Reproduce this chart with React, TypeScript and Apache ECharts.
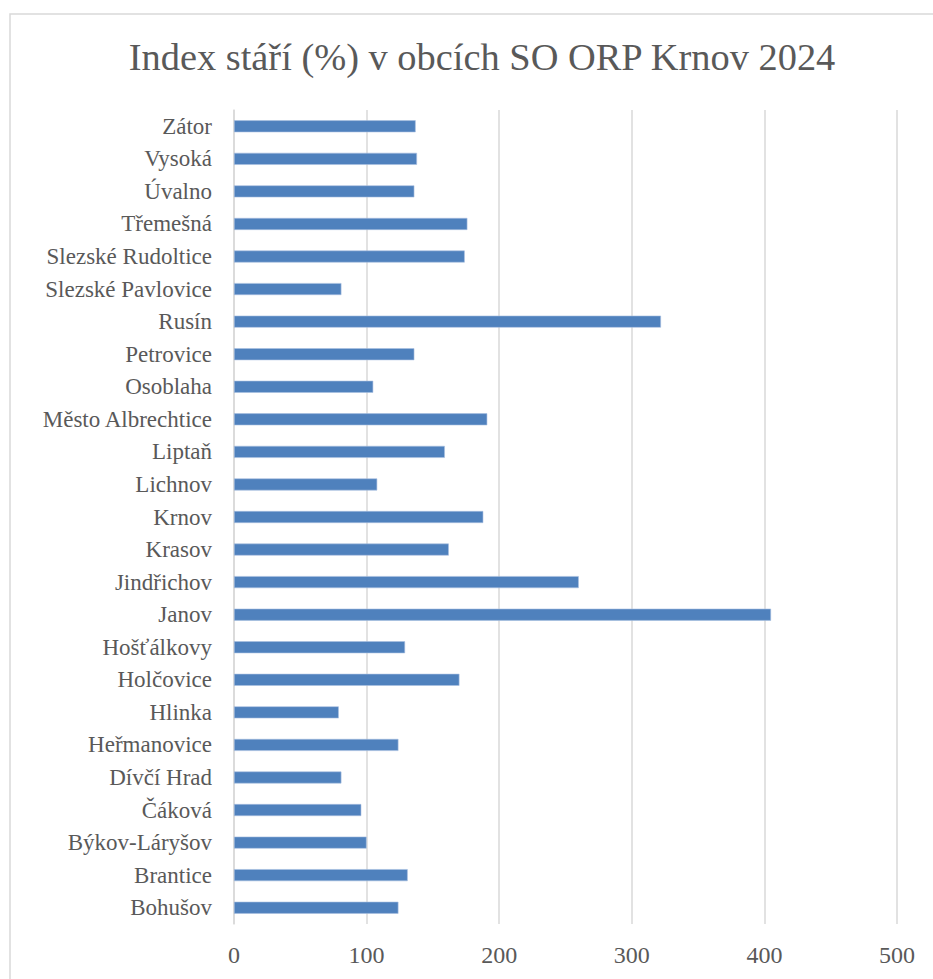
import React, { useEffect, useRef } from "react";
import * as echarts from "echarts";

const categories = [
  "Bohušov",
  "Brantice",
  "Býkov-Láryšov",
  "Čáková",
  "Dívčí Hrad",
  "Heřmanovice",
  "Hlinka",
  "Holčovice",
  "Hošťálkovy",
  "Janov",
  "Jindřichov",
  "Krasov",
  "Krnov",
  "Lichnov",
  "Liptaň",
  "Město Albrechtice",
  "Osoblaha",
  "Petrovice",
  "Rusín",
  "Slezské Pavlovice",
  "Slezské Rudoltice",
  "Třemešná",
  "Úvalno",
  "Vysoká",
  "Zátor",
];

const values = [
  124, 131, 100, 96, 81, 124, 79, 170, 129, 405, 260, 162, 188, 108, 159, 191,
  105, 136, 322, 81, 174, 176, 136, 138, 137,
];

const title = "Index stáří (%) v obcích SO ORP Krnov 2024";

const FONT = "'Liberation Serif', 'DejaVu Serif', serif";

export default function App() {
  const ref = useRef<HTMLDivElement>(null);
  useEffect(() => {
    if (!ref.current) return;
    const chart = echarts.init(ref.current, null, { renderer: "svg" });
    chart.setOption({
      animation: false,
      backgroundColor: "#ffffff",
      title: {
        text: title,
        left: 477,
        textAlign: "center",
        top: 33,
        textStyle: {
          fontFamily: FONT,
          fontWeight: "normal",
          fontSize: 38.4,
          color: "#595959",
        },
      },
      graphic: [
        {
          type: "rect",
          shape: { x: 10, y: 14, width: 940, height: 1000 },
          style: { fill: "none", stroke: "#d9d9d9", lineWidth: 1.5 },
          silent: true,
        },
      ],
      grid: { left: 234, right: 36, top: 110, bottom: 55, containLabel: false },
      xAxis: {
        type: "value",
        min: 0,
        max: 500,
        interval: 100,
        axisLine: { show: false },
        axisTick: { show: false },
        splitLine: { show: true, lineStyle: { color: "#d9d9d9", width: 1.5 } },
        axisLabel: {
          margin: 19,
          fontFamily: FONT,
          fontSize: 24,
          color: "#595959",
        },
      },
      yAxis: {
        type: "category",
        data: categories,
        axisLine: { show: true, lineStyle: { color: "#d9d9d9", width: 1.5 } },
        axisTick: { show: false },
        axisLabel: {
          margin: 22,
          fontFamily: FONT,
          fontSize: 23,
          color: "#595959",
        },
      },
      series: [
        {
          type: "bar",
          data: values,
          barWidth: 12,
          itemStyle: {
            color: "#4F81BD",
            borderColor: "#a9c0e0",
            borderWidth: 0.6,
          },
        },
      ],
    });
    return () => chart.dispose();
  }, []);
  return (
    <div
      ref={ref}
      style={{ position: "fixed", left: 0, top: 0, width: 933, height: 979 }}
    />
  );
}
